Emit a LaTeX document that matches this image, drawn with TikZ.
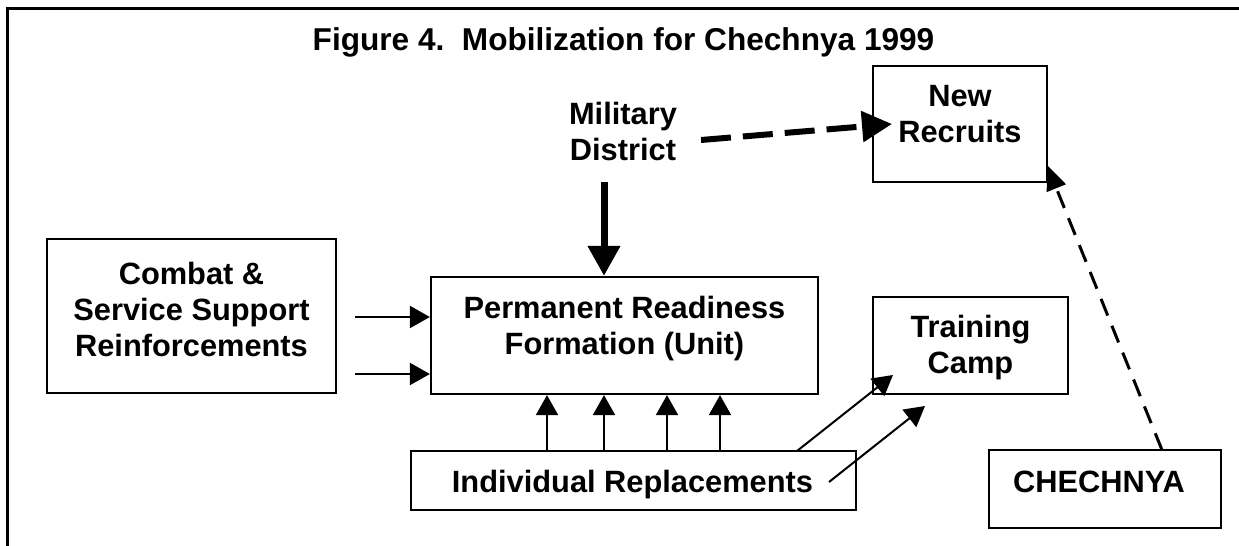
\documentclass[tikz,border=0pt]{standalone}
\usepackage{fontspec}
\setmainfont{Liberation Sans}
\usetikzlibrary{arrows.meta}
\tikzset{
  box/.style={draw, line width=1.1pt, inner sep=0pt, rectangle},
  txt/.style={font=\bfseries\fontsize{15.4}{18}\selectfont, inner sep=0pt, anchor=base},
  ttl/.style={font=\bfseries\fontsize{15.8}{18}\selectfont, inner sep=0pt, anchor=base},
  thinarr/.style={line width=1pt, -{Triangle[length=10pt,width=11pt]}},
  bigarr/.style={line width=3.5pt, -{Triangle[length=15pt,width=15.5pt]}},
  bigdash/.style={line width=3pt, dash pattern=on 15pt off 6pt, -{Triangle[length=15pt,width=15pt]}},
  thindash/.style={line width=1.5pt, dash pattern=on 9pt off 5.5pt, -{Triangle[length=12.5pt,width=10pt]}},
}
\begin{document}
\begin{tikzpicture}[x=0.5pt, y=-0.5pt]
\useasboundingbox (0,0) rectangle (1239,546);
\fill[white] (0,0) rectangle (1239,546);
% outer frame (open at right and bottom)
\draw[line width=1.5pt] (7,546) -- (7,8) -- (1239,8);

% title
\node[ttl] (title) at (623.5,50) {Figure 4.\ \ Mobilization for Chechnya 1999};

% boxes
\node[box, minimum width=144.5pt, minimum height=77pt] (cb) at (191.5,316) {};
\node[box, minimum width=193.5pt, minimum height=58.5pt] (perm) at (624.5,335.5) {};
\node[box, minimum width=87pt, minimum height=58pt] (nr) at (960,124) {};
\node[box, minimum width=97.5pt, minimum height=48.5pt] (tc) at (970.5,345.5) {};
\node[box, minimum width=222.5pt, minimum height=29.5pt] (ir) at (633.5,480.5) {};
\node[box, minimum width=116pt, minimum height=39pt] (ch) at (1105,489) {};

% texts
\node[txt] (md1) at (623,124) {Military};
\node[txt] (md2) at (623,160) {District};
\node[txt] (nr1) at (960,106) {New};
\node[txt] (nr2) at (960,142) {Recruits};
\node[txt] (cb1) at (191.5,284) {Combat \&};
\node[txt] (cb2) at (191.5,320) {Service Support};
\node[txt] (cb3) at (191.5,356) {Reinforcements};
\node[txt] (pm1) at (624.5,318) {Permanent Readiness};
\node[txt] (pm2) at (624.5,354) {Formation (Unit)};
\node[txt] (tc1) at (970.5,337) {Training};
\node[txt] (tc2) at (970.5,373) {Camp};
\node[txt] (ir1) at (632.5,492) {Individual Replacements};
\node[txt] (ch1) at (1099,492) {CHECHNYA};

% Military District -> Permanent Readiness Formation
\coordinate (mdS) at (604,182);
\draw[bigarr] (mdS) -- (mdS |- perm.north);

% Military District -> New Recruits (dashed)
\coordinate (mdE) at (701,140);
\coordinate (nrIn) at (892,124);
\draw[bigdash] (mdE) -- (nrIn);

% Combat & Service Support -> Permanent Readiness
\coordinate (h1) at (355,317);
\coordinate (h2) at (355,374);
\draw[thinarr] (h1) -- (h1 -| perm.west);
\draw[thinarr] (h2) -- (h2 -| perm.west);

% Individual Replacements -> Permanent Readiness
\coordinate (u1) at (547,0);
\coordinate (u2) at (604,0);
\coordinate (u3) at (667,0);
\coordinate (u4) at (720,0);
\foreach \u in {u1,u2,u3,u4}{
  \draw[thinarr] (ir.north -| \u) -- (perm.south -| \u);
}

% Individual Replacements -> Training Camp
\coordinate (a1s) at (797,451);
\coordinate (a1e) at (893,375);
\coordinate (a2s) at (829,482);
\coordinate (a2e) at (925,406);
\draw[thinarr] (a1s) -- (a1e);
\draw[thinarr] (a2s) -- (a2e);

% CHECHNYA -> New Recruits (dashed)
\coordinate (chN) at (1162,450);
\coordinate (nrE) at (1047,165);
\draw[thindash] (chN) -- (nrE);
\end{tikzpicture}
\end{document}
